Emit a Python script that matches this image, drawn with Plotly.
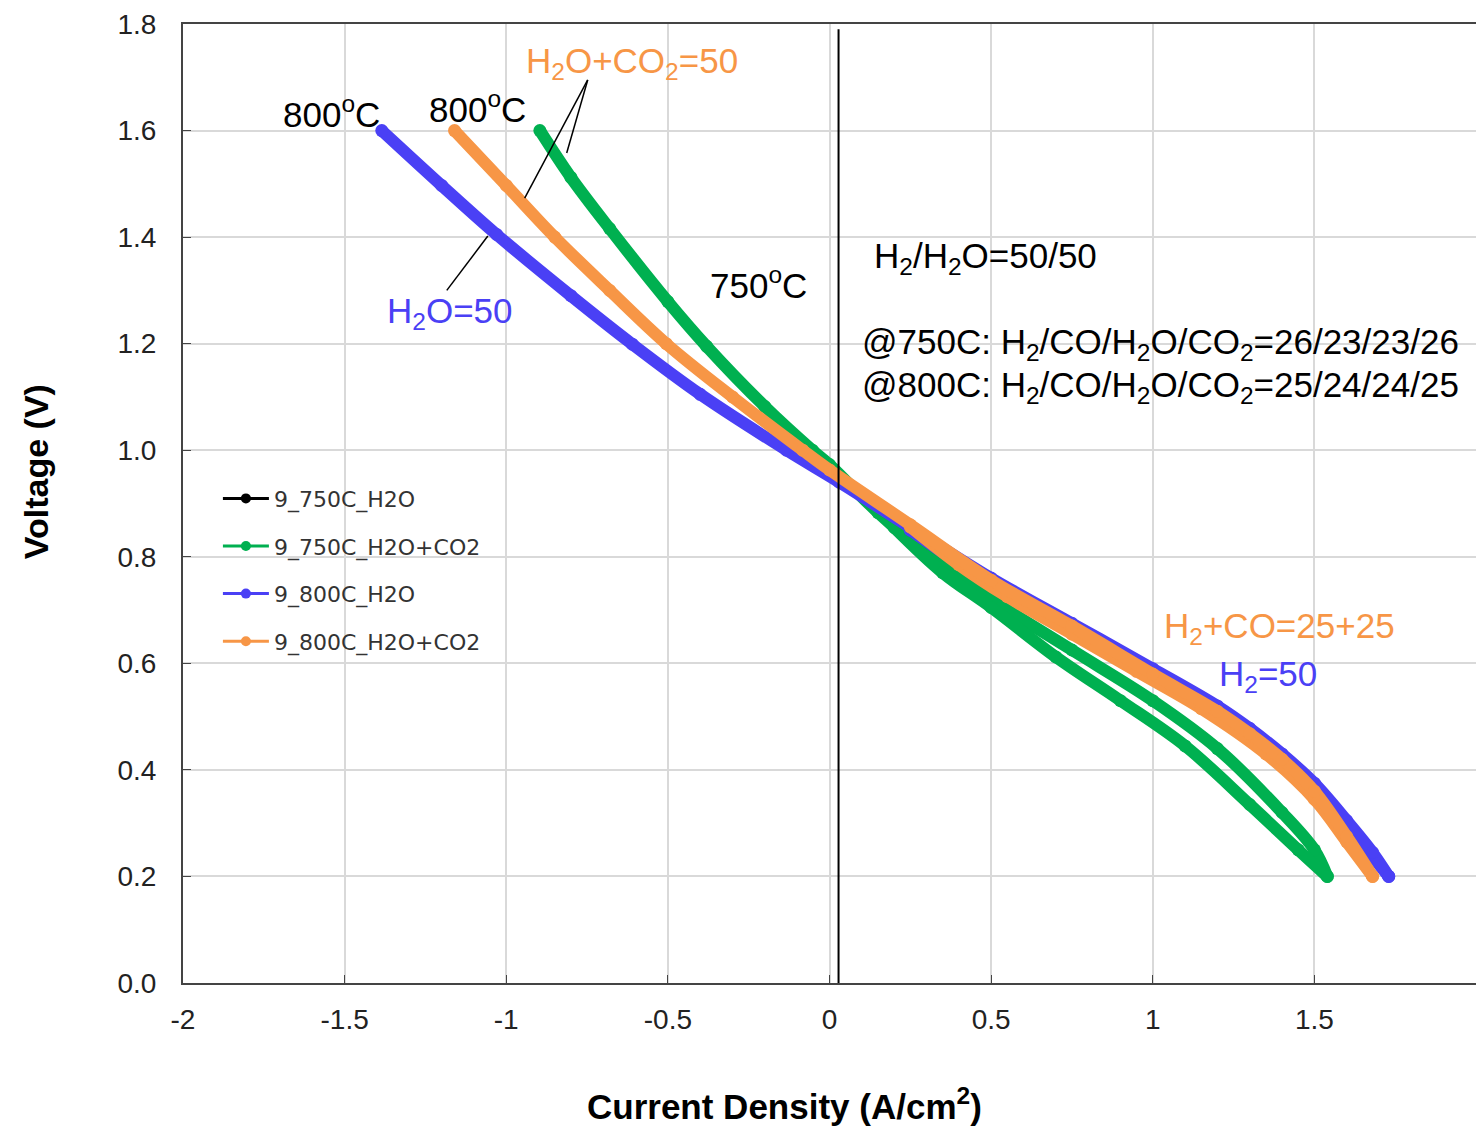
import plotly.graph_objects as go

# ---- I-V sweep data (current density in A/cm2, voltage in V) ----
# 750C, H2O+CO2 feed: descending sweep and return sweep
j_750_co2_down = [-0.896, -0.8, -0.68, -0.5, -0.38, -0.2, -0.053, 0.0, 0.15, 0.31, 0.5, 0.75, 1.0, 1.2, 1.4, 1.5, 1.54]
v_750_co2_down = [1.60, 1.512, 1.416, 1.279, 1.195, 1.082, 1.00, 0.973, 0.883, 0.80, 0.72, 0.625, 0.53, 0.44, 0.32, 0.25, 0.20]
j_750_co2_up = [1.54, 1.45, 1.3, 1.1, 0.9, 0.7, 0.5, 0.35, 0.2]
v_750_co2_up = [0.20, 0.25, 0.335, 0.445, 0.53, 0.612, 0.705, 0.77, 0.855]

# 800C, H2O feed
j_800_h2o_down = [-1.385, -1.2, -1.03, -0.8, -0.61, -0.4, -0.133, 0.03, 0.25, 0.5, 0.75, 1.0, 1.2, 1.3, 1.4, 1.5, 1.6, 1.68, 1.73]
v_800_h2o_down = [1.60, 1.497, 1.405, 1.29, 1.199, 1.105, 1.00, 0.94, 0.855, 0.76, 0.675, 0.59, 0.52, 0.478, 0.43, 0.375, 0.305, 0.245, 0.20]
j_800_h2o_up = [1.73, 1.65, 1.55, 1.4, 1.2, 1.0, 0.8, 0.6, 0.4, 0.25]
v_800_h2o_up = [0.20, 0.26, 0.335, 0.425, 0.51, 0.58, 0.65, 0.715, 0.788, 0.85]

# 800C, H2O+CO2 feed
j_800_co2_down = [-1.16, -1.0, -0.85, -0.68, -0.505, -0.3, -0.083, 0.0, 0.25, 0.5, 0.75, 1.0, 1.2, 1.3, 1.4, 1.5, 1.6, 1.68]
v_800_co2_down = [1.60, 1.497, 1.40, 1.30, 1.20, 1.10, 1.00, 0.963, 0.86, 0.756, 0.67, 0.58, 0.51, 0.468, 0.42, 0.36, 0.275, 0.20]
j_800_co2_up = [1.68, 1.6, 1.5, 1.35, 1.15, 0.95, 0.75, 0.55, 0.4, 0.25]
v_800_co2_up = [0.20, 0.265, 0.345, 0.43, 0.515, 0.585, 0.655, 0.725, 0.785, 0.856]

series_names = ["9_750C_H2O", "9_750C_H2O+CO2", "9_800C_H2O", "9_800C_H2O+CO2"]
series_colors = ["#000000", "#00B050", "#4A40F5", "#F79646"]

x_ticks = [-2, -1.5, -1, -0.5, 0, 0.5, 1, 1.5, 2]
x_tick_text = ["-2", "-1.5", "-1", "-0.5", "0", "0.5", "1", "1.5", "2"]
y_ticks = [0.0, 0.2, 0.4, 0.6, 0.8, 1.0, 1.2, 1.4, 1.6, 1.8]

GREEN, BLUE, ORANGE = series_colors[1], series_colors[2], series_colors[3]
FONT = "Liberation Sans, Arial, sans-serif"

fig = go.Figure()


def sweep(j, v, color):
    fig.add_trace(go.Scatter(
        x=j, y=v, mode="lines+markers", showlegend=False, hoverinfo="x+y",
        line=dict(color=color, width=12, shape="spline", smoothing=1.0),
        marker=dict(color=color, size=13),
    ))


sweep(j_750_co2_down, v_750_co2_down, GREEN)
sweep(j_750_co2_up, v_750_co2_up, GREEN)
sweep(j_800_h2o_up, v_800_h2o_up, BLUE)
sweep(j_800_h2o_down, v_800_h2o_down, BLUE)
sweep(j_800_co2_up, v_800_co2_up, ORANGE)
sweep(j_800_co2_down, v_800_co2_down, ORANGE)

# legend entries (thin line + dot)
for i, (name, color) in enumerate(zip(series_names, series_colors)):
    fig.add_trace(go.Scatter(
        x=[None], y=[None], mode="lines+markers", name=name,
        legendgroup=f"g{i}",
        line=dict(color=color, width=3),
        marker=dict(color=color, size=10),
    ))

# vertical reference line near open circuit
fig.add_shape(type="line", xref="x", yref="y", x0=0.028, x1=0.028, y0=0, y1=1.79,
              line=dict(color="#000000", width=2))

ann_font = dict(family=FONT, size=35)


def label(x, y, text, color="#000000", xanchor="center"):
    fig.add_annotation(x=x, y=y, xref="x", yref="y", text=text, showarrow=False,
                       xanchor=xanchor, yanchor="middle",
                       font=dict(ann_font, color=color))


label(-1.54, 1.635, "800<sup>o</sup>C")
label(-1.088, 1.644, "800<sup>o</sup>C")
label(-0.612, 1.727, "H<sub>2</sub>O+CO<sub>2</sub>=50", ORANGE)
label(-0.219, 1.314, "750<sup>o</sup>C")
label(-1.175, 1.257, "H<sub>2</sub>O=50", BLUE)
label(0.133, 1.361, "H<sub>2</sub>/H<sub>2</sub>O=50/50", xanchor="left")
label(0.093, 1.199, "@750C: H<sub>2</sub>/CO/H<sub>2</sub>O/CO<sub>2</sub>=26/23/23/26", xanchor="left")
label(0.093, 1.119, "@800C: H<sub>2</sub>/CO/H<sub>2</sub>O/CO<sub>2</sub>=25/24/24/25", xanchor="left")
label(1.029, 0.666, "H<sub>2</sub>+CO=25+25", ORANGE, xanchor="left")
label(1.199, 0.576, "H<sub>2</sub>=50", BLUE, xanchor="left")

# leader lines for the feed labels
for x0, y0, x1, y1 in [(-0.748, 1.695, -0.943, 1.473),
                       (-0.748, 1.695, -0.813, 1.558),
                       (-1.184, 1.300, -1.057, 1.402)]:
    fig.add_shape(type="line", xref="x", yref="y", x0=x0, y0=y0, x1=x1, y1=y1,
                  line=dict(color="#000000", width=1.5))

# axis titles
fig.add_annotation(x=-0.114, y=0.96, xref="paper", yref="y", text="<b>Voltage (V)</b>",
                   textangle=-90, showarrow=False, xanchor="center", yanchor="middle",
                   font=dict(family=FONT, size=34, color="#000000"))
fig.add_annotation(x=-0.139, y=-0.126, xref="x", yref="paper",
                   text="<b>Current Density (A/cm<sup>2</sup>)</b>",
                   showarrow=False, xanchor="center", yanchor="middle",
                   font=dict(family=FONT, size=35, color="#000000"))

tick_font = dict(family=FONT, size=28, color="#222222")

fig.update_layout(
    width=1476, height=1129,
    margin=dict(l=183, r=0, t=24, b=146),
    paper_bgcolor="white", plot_bgcolor="white",
    showlegend=True,
    legend=dict(x=0.027, y=0.527, xanchor="left", yanchor="top",
                traceorder="grouped", tracegroupgap=16,
                font=dict(family="DejaVu Sans, sans-serif", size=22, color="#333333"),
                bgcolor="rgba(255,255,255,0)", itemwidth=46),
    xaxis=dict(range=[-2, 2], tickvals=x_ticks, ticktext=x_tick_text,
               showgrid=True, gridcolor="#D9D9D9", gridwidth=2,
               zeroline=False, showline=True, linecolor="#444444", linewidth=2,
               mirror=True, ticks="inside", ticklen=8, tickcolor="#444444",
               tickfont=tick_font, ticklabelstandoff=10, automargin=False),
    yaxis=dict(range=[0, 1.8], tickvals=y_ticks, tickformat=".1f",
               showgrid=True, gridcolor="#D9D9D9", gridwidth=2,
               zeroline=False, showline=True, linecolor="#444444", linewidth=2,
               mirror=True, ticks="inside", ticklen=8, tickcolor="#444444",
               tickfont=tick_font, ticklabelstandoff=19, automargin=False),
)

fig.write_html("out.html")
